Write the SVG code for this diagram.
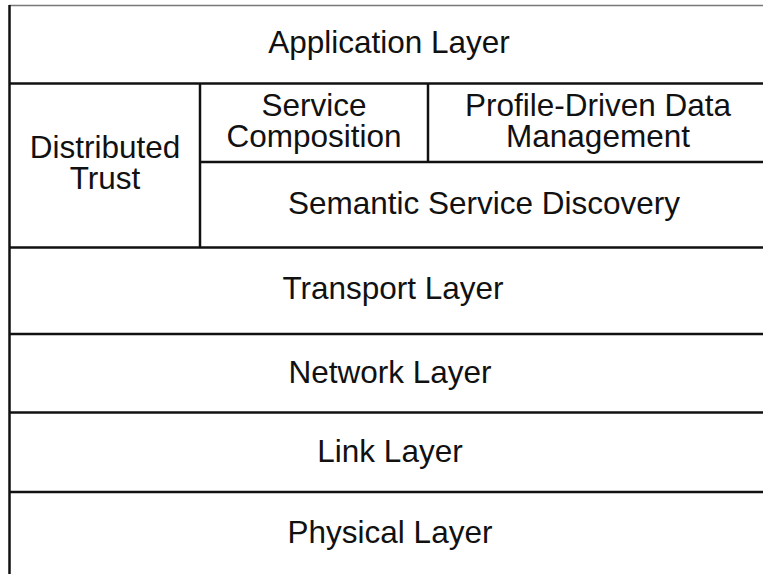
<svg xmlns="http://www.w3.org/2000/svg" width="763" height="574" viewBox="0 0 763 574">
<style>
.ln{stroke:#111;stroke-width:2.5;fill:none}
.top{stroke:#777;stroke-width:1.5;fill:none}
text{font-family:"Liberation Sans",Arial,sans-serif;font-size:31.5px;fill:#111;text-anchor:middle}
</style>
<rect width="763" height="574" fill="#fff"/>
<g id="connectors">
<line class="top" x1="9" y1="5.5" x2="763" y2="5.5"/>
<line class="ln" x1="9.5" y1="5" x2="9.5" y2="574"/>
<line class="ln" x1="9" y1="83.5" x2="763" y2="83.5"/>
<line class="ln" x1="200" y1="83" x2="200" y2="247.5"/>
<line class="ln" x1="428" y1="83" x2="428" y2="162"/>
<line class="ln" x1="200" y1="162" x2="763" y2="162"/>
<line class="ln" x1="9" y1="247.5" x2="763" y2="247.5"/>
<line class="ln" x1="9" y1="334" x2="763" y2="334"/>
<line class="ln" x1="9" y1="412.5" x2="763" y2="412.5"/>
<line class="ln" x1="9" y1="492" x2="763" y2="492"/>
</g>
<g id="application"><text x="389" y="53">Application Layer</text></g>
<g id="trust"><text x="105" y="158">Distributed</text><text x="105" y="189">Trust</text></g>
<g id="composition"><text x="314" y="116">Service</text><text x="314" y="147">Composition</text></g>
<g id="profile"><text x="598" y="116">Profile-Driven Data</text><text x="598" y="147">Management</text></g>
<g id="discovery"><text x="484" y="214">Semantic Service Discovery</text></g>
<g id="transport"><text x="393" y="299">Transport Layer</text></g>
<g id="network"><text x="390" y="383">Network Layer</text></g>
<g id="link"><text x="390" y="462">Link Layer</text></g>
<g id="physical"><text x="390" y="543">Physical Layer</text></g>
</svg>
